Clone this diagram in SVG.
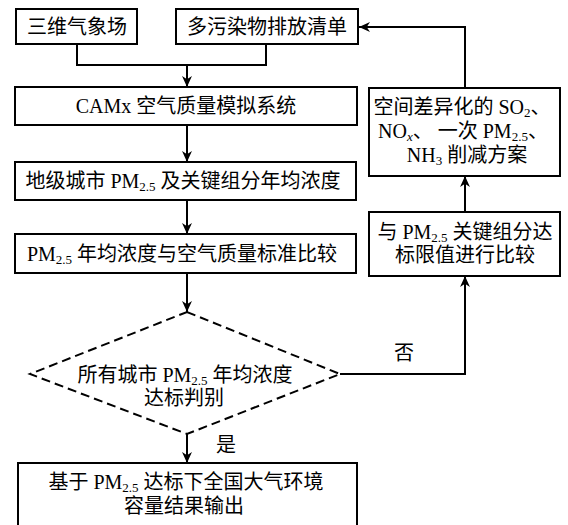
<svg xmlns="http://www.w3.org/2000/svg" width="568" height="525" viewBox="0 0 568 525">
<defs>
<style>
.box{fill:#fff;stroke:#000;stroke-width:2}
.dia{fill:none;stroke:#000;stroke-width:2;stroke-dasharray:9,5}
.ln{fill:none;stroke:#000;stroke-width:2}
.t{font-family:'Liberation Serif','Noto Sans CJK SC',serif;font-size:20px;fill:#000;text-anchor:middle}
.s{font-size:13px}
</style>
<marker id="ah" viewBox="0 0 10 10" refX="10" refY="5" markerWidth="11" markerHeight="11" orient="auto" markerUnits="userSpaceOnUse">
<path d="M0,0.5 L10,5 L0,9.5 L3,5 Z" fill="#000"/>
</marker>
</defs>
<rect width="568" height="525" fill="#fff"/>
<g id="connectors">
<path class="ln" d="M77,44 V65 H266 V44"/>
<path class="ln" d="M187,65 V87" marker-end="url(#ah)"/>
<path class="ln" d="M187,125 V162" marker-end="url(#ah)"/>
<path class="ln" d="M187,200 V234" marker-end="url(#ah)"/>
<path class="ln" d="M187,273 V312" marker-end="url(#ah)"/>
<path class="ln" d="M187,434 V463" marker-end="url(#ah)"/>
<path class="ln" d="M340,374 H465 V276" marker-end="url(#ah)"/>
<path class="ln" d="M465,212 V176" marker-end="url(#ah)"/>
<path class="ln" d="M465,88 V27 H359" marker-end="url(#ah)"/>
<text class="t" x="404" y="360">否</text>
<text class="t" x="226" y="452">是</text>
</g>
<g id="n1">
<rect class="box" x="16" y="9" width="121" height="35"/>
<text class="t" x="77" y="34">三维气象场</text>
</g>
<g id="n2">
<rect class="box" x="176" y="9" width="182" height="35"/>
<text class="t" x="267" y="34">多污染物排放清单</text>
</g>
<g id="n3">
<rect class="box" x="15" y="87" width="342" height="38"/>
<text class="t" x="186" y="113">CAMx 空气质量模拟系统</text>
</g>
<g id="n4">
<rect class="box" x="15" y="162" width="341" height="38"/>
<text class="t" x="183" y="188">地级城市 PM<tspan class="s" dy="3">2.5</tspan><tspan dy="-3"> 及关键组分年均浓度</tspan></text>
</g>
<g id="n5">
<rect class="box" x="15" y="234" width="341" height="39"/>
<text class="t" x="182" y="261">PM<tspan class="s" dy="3">2.5</tspan><tspan dy="-3"> 年均浓度与空气质量标准比较</tspan></text>
</g>
<g id="n6">
<polygon class="dia" points="187,312 340,374 187,434 30,374"/>
<text class="t" x="185" y="382">所有城市 PM<tspan class="s" dy="3">2.5</tspan><tspan dy="-3"> 年均浓度</tspan></text>
<text class="t" x="184" y="405">达标判别</text>
</g>
<g id="n7">
<rect class="box" x="18" y="463" width="339" height="70"/>
<text class="t" x="186" y="489">基于 PM<tspan class="s" dy="3">2.5</tspan><tspan dy="-3"> 达标下全国大气环境</tspan></text>
<text class="t" x="184" y="513">容量结果输出</text>
</g>
<g id="n8">
<rect class="box" x="369" y="88" width="191" height="88"/>
<text class="t" x="462" y="114">空间差异化的 SO<tspan class="s" dy="3">2</tspan><tspan dy="-3">、</tspan></text>
<text class="t" x="463" y="138">NO<tspan class="s" dy="3" font-style="italic">x</tspan><tspan dy="-3">、 一次 PM</tspan><tspan class="s" dy="3">2.5</tspan><tspan dy="-3">、</tspan></text>
<text class="t" x="467" y="162">NH<tspan class="s" dy="3">3</tspan><tspan dy="-3"> 削减方案</tspan></text>
</g>
<g id="n9">
<rect class="box" x="369" y="212" width="191" height="64"/>
<text class="t" x="465" y="239">与 PM<tspan class="s" dy="3">2.5</tspan><tspan dy="-3"> 关键组分达</tspan></text>
<text class="t" x="465" y="262">标限值进行比较</text>
</g>
</svg>
